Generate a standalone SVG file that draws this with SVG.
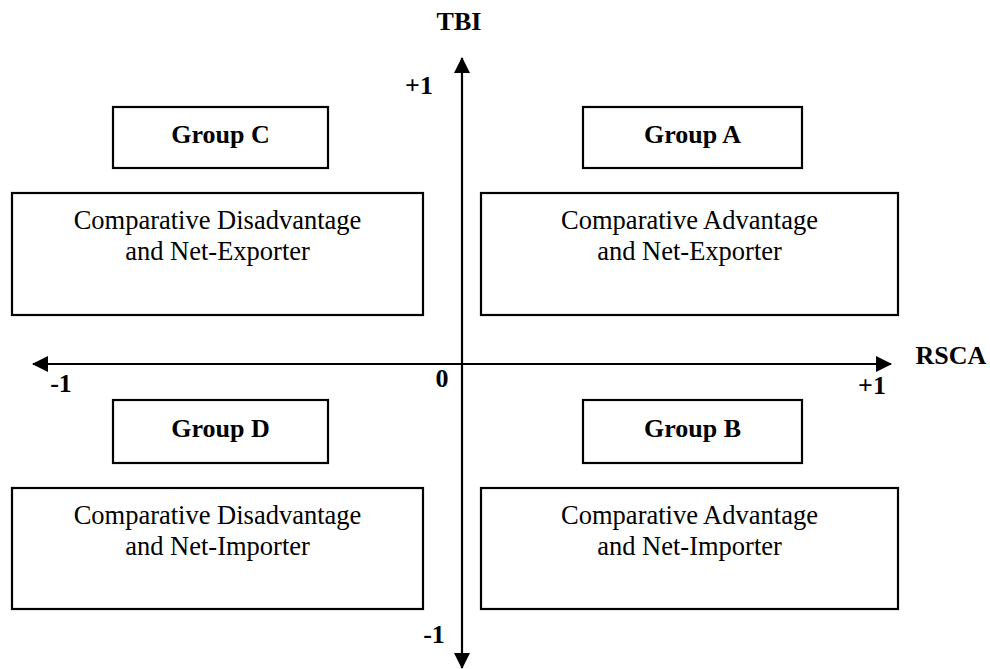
<svg xmlns="http://www.w3.org/2000/svg" width="990" height="669" viewBox="0 0 990 669">
<style>
text{font-family:"Liberation Serif","Times New Roman",serif;fill:#000}
.b{font-weight:bold;font-size:26px}
.r{font-size:26.5px}
.box{fill:#fff;stroke:#000;stroke-width:2.2}
.ax{stroke:#000;stroke-width:2.2;fill:none}
</style>
<defs>
<marker id="ah" viewBox="0 0 16 16" refX="15" refY="8" markerWidth="16" markerHeight="16" markerUnits="userSpaceOnUse" orient="auto-start-reverse">
<path d="M0,0 L16,8 L0,16 z" fill="#000"/>
</marker>
</defs>
<rect width="990" height="669" fill="#fff"/>
<g id="connectors">
<line class="ax" x1="462" y1="58" x2="462" y2="668" marker-start="url(#ah)" marker-end="url(#ah)"/>
<line class="ax" x1="33" y1="364" x2="891" y2="364" marker-start="url(#ah)" marker-end="url(#ah)"/>
</g>
<g id="axis-labels">
<text class="b" x="459" y="30" text-anchor="middle">TBI</text>
<text class="b" x="419" y="94" text-anchor="middle">+1</text>
<text class="b" x="61" y="392" text-anchor="middle">-1</text>
<text class="b" x="442" y="387" text-anchor="middle">0</text>
<text class="b" x="872" y="394" text-anchor="middle">+1</text>
<text class="b" x="951" y="364" text-anchor="middle">RSCA</text>
<text class="b" x="434" y="643" text-anchor="middle">-1</text>
</g>
<g id="groupC">
<rect class="box" x="113" y="107" width="215" height="61"/>
<text class="b" x="220.5" y="143" text-anchor="middle">Group C</text>
</g>
<g id="groupA">
<rect class="box" x="583" y="107" width="219" height="61"/>
<text class="b" x="692.5" y="143" text-anchor="middle">Group A</text>
</g>
<g id="groupD">
<rect class="box" x="113" y="400" width="215" height="63"/>
<text class="b" x="220.5" y="437" text-anchor="middle">Group D</text>
</g>
<g id="groupB">
<rect class="box" x="583" y="400" width="219" height="63"/>
<text class="b" x="692.5" y="437" text-anchor="middle">Group B</text>
</g>
<g id="descC">
<rect class="box" x="12" y="193" width="411" height="122"/>
<text class="r" x="217.5" y="229" text-anchor="middle">Comparative Disadvantage</text>
<text class="r" x="217.5" y="260" text-anchor="middle">and Net-Exporter</text>
</g>
<g id="descA">
<rect class="box" x="481" y="193" width="417" height="122"/>
<text class="r" x="689.5" y="229" text-anchor="middle">Comparative Advantage</text>
<text class="r" x="689.5" y="260" text-anchor="middle">and Net-Exporter</text>
</g>
<g id="descD">
<rect class="box" x="12" y="488" width="411" height="121"/>
<text class="r" x="217.5" y="524" text-anchor="middle">Comparative Disadvantage</text>
<text class="r" x="217.5" y="555" text-anchor="middle">and Net-Importer</text>
</g>
<g id="descB">
<rect class="box" x="481" y="488" width="417" height="121"/>
<text class="r" x="689.5" y="524" text-anchor="middle">Comparative Advantage</text>
<text class="r" x="689.5" y="555" text-anchor="middle">and Net-Importer</text>
</g>
</svg>
